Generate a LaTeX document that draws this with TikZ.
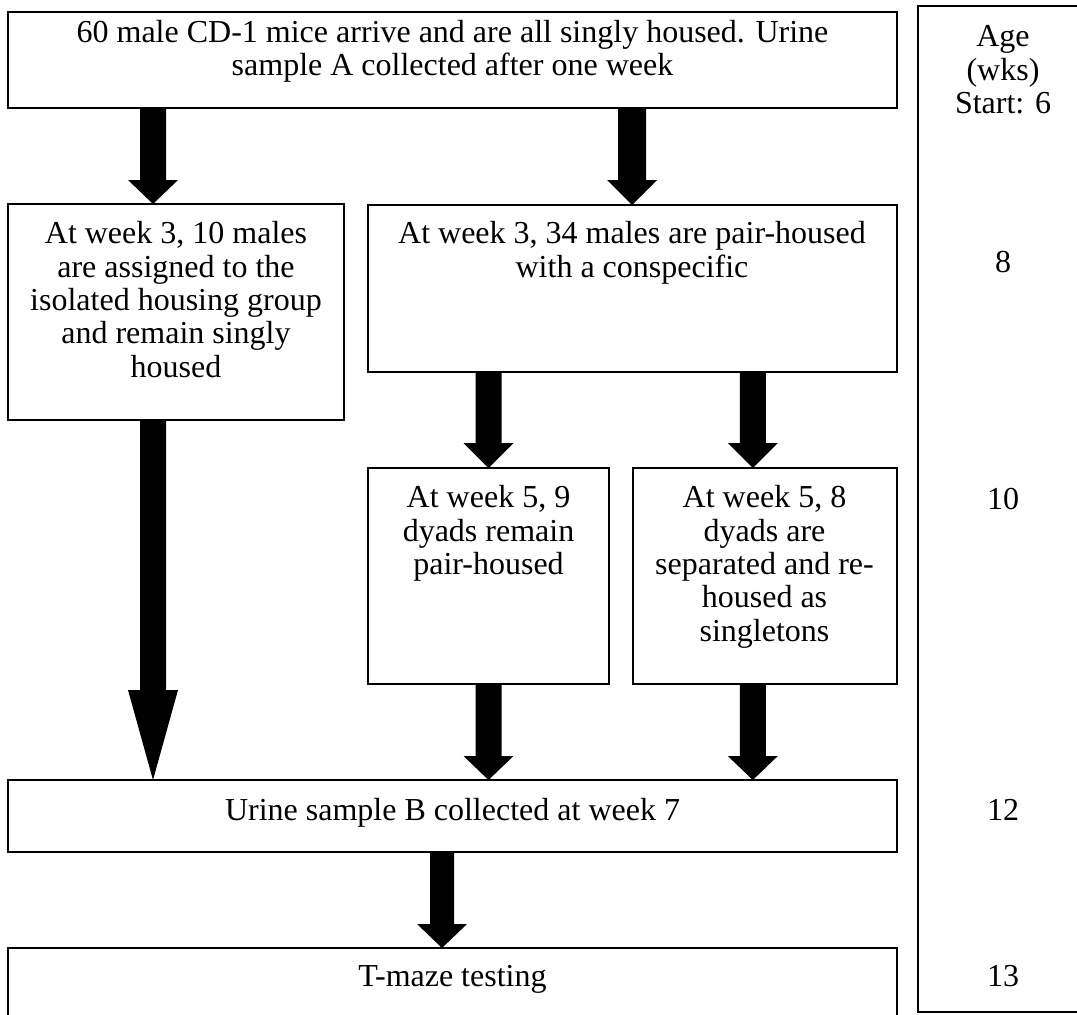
\documentclass[tikz,border=0pt]{standalone}
\usepackage{fontspec}
\setmainfont{Liberation Serif}
\usetikzlibrary{calc}
\tikzset{
  box/.style={draw, line width=1.3pt, rectangle, inner sep=0pt, outer sep=0pt, anchor=north west},
  txt/.style={inner sep=0pt, outer sep=0pt, anchor=north, align=center,
    font=\fontsize{32}{33.3}\selectfont, execute at begin node=\strut},
}
\newcommand\blockarrow[5]{%
  \fill[black] ($(#1)+(-#3,0)$) -- ($(#2)+(-#3,-#5)$) -- ($(#2)+(-#4,-#5)$) -- (#2)
    -- ($(#2)+(#4,-#5)$) -- ($(#2)+(#3,-#5)$) -- ($(#1)+(#3,0)$) -- cycle;}
\begin{document}
\begin{tikzpicture}[x=1pt,y=-1pt]
\useasboundingbox (0,0) rectangle (1077,1015);
\clip (0,0) rectangle (1077,1015);
% boxes
\node[box, minimum width=889pt, minimum height=96pt]  (top) at (8,12) {};
\node[box, minimum width=336pt, minimum height=216pt] (L)   at (8,204) {};
\node[box, minimum width=529pt, minimum height=167pt] (M)   at (368,205) {};
\node[box, minimum width=241pt, minimum height=216pt] (D)   at (368,468) {};
\node[box, minimum width=264pt, minimum height=216pt] (S)   at (633,468) {};
\node[box, minimum width=889pt, minimum height=72pt]  (U)   at (8,780) {};
\node[box, minimum width=889pt, minimum height=90pt]  (T)   at (8,948) {};
\node[box, minimum width=200pt, minimum height=1006pt] (R)  at (918,6) {};
% texts
\node[txt] (ttop) at (452.5,20.2) {60 male CD-1 mice arrive and are all singly housed. Urine\\sample A collected after one week};
\node[txt] (tL) at (176,221.7) {At week 3, 10 males\\are assigned to the\\isolated housing group\\and remain singly\\housed};
\node[txt] (tM) at (632,221.7) {At week 3, 34 males are pair-housed\\with a conspecific};
\node[txt] (tD) at (488.5,485.7) {At week 5, 9\\dyads remain\\pair-housed};
\node[txt] (tS) at (764.5,485.7) {At week 5, 8\\dyads are\\separated and re-\\housed as\\singletons};
\node[txt] (tU) at (452.5,796.7) {Urine sample B collected at week 7};
\node[txt] (tT) at (452.5,962.7) {T-maze testing};
\node[txt] (r0) at (1003,25.7) {Age\\(wks)\\Start: 6};
\node[txt] (r1) at (1003,248.7) {8};
\node[txt] (r2) at (1003,485.7) {10};
\node[txt] (r3) at (1003,796.7) {12};
\node[txt] (r4) at (1003,962.7) {13};
% arrow columns
\coordinate (x1) at (153,0);
\coordinate (x2) at (632,0);
\coordinate (x3) at (488.5,0);
\coordinate (x4) at (752.8,0);
\coordinate (x5) at (442,0);
\blockarrow{top.south -| x1}{L.north -| x1}{13}{25}{24}
\blockarrow{top.south -| x2}{M.north -| x2}{14}{25}{25}
\blockarrow{L.south -| x1}{U.north -| x1}{13}{25}{90}
\blockarrow{M.south -| x3}{D.north -| x3}{13}{25}{25}
\blockarrow{M.south -| x4}{S.north -| x4}{13}{25}{25}
\blockarrow{D.south -| x3}{U.north -| x3}{13}{25}{24}
\blockarrow{S.south -| x4}{U.north -| x4}{13}{25}{24}
\blockarrow{U.south -| x5}{T.north -| x5}{12}{25}{24}
\end{tikzpicture}
\end{document}
